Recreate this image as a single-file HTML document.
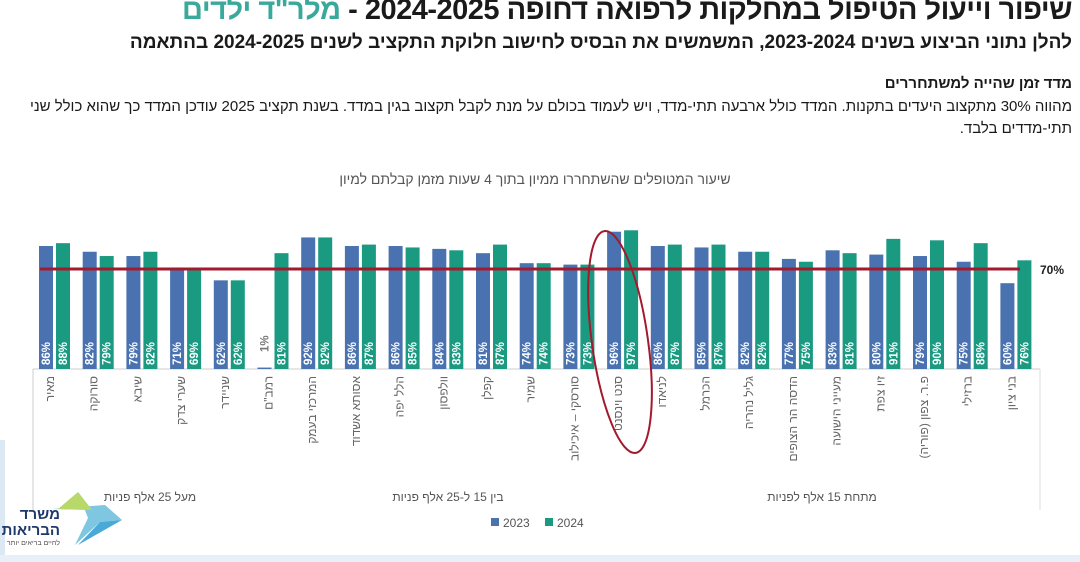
<!DOCTYPE html>
<html><head><meta charset="utf-8"><style>
body{margin:0;width:1080px;height:562px;background:#fff;overflow:hidden;position:relative;font-family:"Liberation Sans","Noto Sans CJK SC",sans-serif;}
.t{position:absolute;right:8px;direction:rtl;white-space:nowrap;color:#1a1a1a;}
</style></head><body>
<div class="t" style="top:-6px;font-size:29px;font-weight:bold;letter-spacing:-0.5px;">שיפור וייעול הטיפול במחלקות לרפואה דחופה 2024-2025 - <span style="color:#3aa89a">מלר"ד ילדים</span></div>
<div class="t" style="top:32px;font-size:19px;font-weight:bold;">להלן נתוני הביצוע בשנים 2023-2024, המשמשים את הבסיס לחישוב חלוקת התקציב לשנים 2024-2025 בהתאמה</div>
<div class="t" style="top:75px;font-size:15px;font-weight:bold;">מדד זמן שהייה למשתחררים</div>
<div class="t" style="top:98px;font-size:15px;">מהווה 30% מתקצוב היעדים בתקנות. המדד כולל ארבעה תתי-מדד, ויש לעמוד בכולם על מנת לקבל תקצוב בגין במדד. בשנת תקציב 2025 עודכן המדד כך שהוא כולל שני</div>
<div class="t" style="top:120px;font-size:15px;">תתי-מדדים בלבד.</div>
<div style="position:absolute;left:0;top:440px;width:5px;height:122px;background:#dde8f5"></div>
<div style="position:absolute;left:0;top:555px;width:1080px;height:7px;background:#e8eff8"></div>
<svg width="1080" height="562" style="position:absolute;left:0;top:0" id="s"></svg>
<script>
const s=document.getElementById('s');
const d=[["מאיר",86,88],["סורוקה",82,79],["שיבא",79,82],["שערי צדק",71,69],["שניידר",62,62],["רמב\"ם",1,81],["המרכזי בעמק",92,92],["אסותא אשדוד",86,87],["הלל יפה",86,85],["וולפסון",84,83],["קפלן",81,87],["שמיר",74,74],["סורסקי – איכילוב",73,73],["סנט וינסנט",96,97],["לניאדו",86,87],["הכרמל",85,87],["גליל נהריה",82,82],["הדסה הר הצופים",77,75],["מעייני הישועה",83,81],["זיו צפת",80,91],["פ.ר. צפון (פוריה)",79,90],["ברזילי",75,88],["בני ציון",60,76]];
let h='';
h+='<text x="535" y="184" font-size="14" fill="#555" text-anchor="middle" direction="rtl">שיעור המטופלים שהשתחררו ממיון בתוך 4 שעות מזמן קבלתם למיון</text>';
h+='<line x1="33" y1="369" x2="1040" y2="369" stroke="#ccc"/><line x1="33" y1="369" x2="33" y2="510" stroke="#ccc"/><line x1="1040" y1="369" x2="1040" y2="510" stroke="#ddd"/>';
const B=369,k=1.43;
d.forEach((r,i)=>{const x=39+i*43.7;
[[r[1],'#4a72b0',x],[r[2],'#1b9a82',x+17]].forEach(([v,c,xx])=>{const hh=v*k;
h+=`<rect x="${xx}" y="${B-hh}" width="14" height="${hh}" fill="${c}"/>`;
const fc=v<10?'#777':'#fff';
h+=`<text transform="translate(${xx+11},${v<10?352:365}) rotate(-90)" font-size="11.5" font-weight="bold" fill="${fc}">${v}%</text>`;});
h+=`<text transform="translate(${x+15},376) rotate(-90)" font-size="12" fill="#666" direction="rtl" text-anchor="start">${r[0]}</text>`;
});
h+='<line x1="40" y1="269" x2="1020" y2="269" stroke="#a3192d" stroke-width="3"/>';
h+='<text x="1040" y="274" font-size="12" font-weight="bold" fill="#222">70%</text>';
h+='<ellipse cx="620" cy="342" rx="28" ry="112" transform="rotate(-8 620 342)" fill="none" stroke="#a3192d" stroke-width="2"/>';
h+='<text x="150" y="501" font-size="12" fill="#555" text-anchor="middle" direction="rtl">מעל 25 אלף פניות</text>';
h+='<text x="448" y="501" font-size="12" fill="#555" text-anchor="middle" direction="rtl">בין 15 ל-25 אלף פניות</text>';
h+='<text x="822" y="501" font-size="12" fill="#555" text-anchor="middle" direction="rtl">מתחת 15 אלף לפניות</text>';
h+='<rect x="491" y="518" width="8" height="8" fill="#4a72b0"/><text x="503" y="527" font-size="12" fill="#555">2023</text>';
h+='<rect x="545" y="518" width="8" height="8" fill="#1b9a82"/><text x="557" y="527" font-size="12" fill="#555">2024</text>';
h+='<polygon points="52,509 92,510 78,492 88,518 75,545 100,522 122,520 105,505" fill="#7fc6e0"/><polygon points="58,509 92,510 78,492" fill="#b8d86a"/><polygon points="78,545 100,522 122,520" fill="#4aa9d6"/>';
h+='<text x="60" y="519" font-size="15" font-weight="bold" fill="#1d3a6b" text-anchor="start" direction="rtl">משרד</text><text x="60" y="535" font-size="15" font-weight="bold" fill="#1d3a6b" text-anchor="start" direction="rtl">הבריאות</text><text x="60" y="545" font-size="7" fill="#555" text-anchor="start" direction="rtl">לחיים בריאים יותר</text>';
s.innerHTML=h;
</script>
</body></html>
